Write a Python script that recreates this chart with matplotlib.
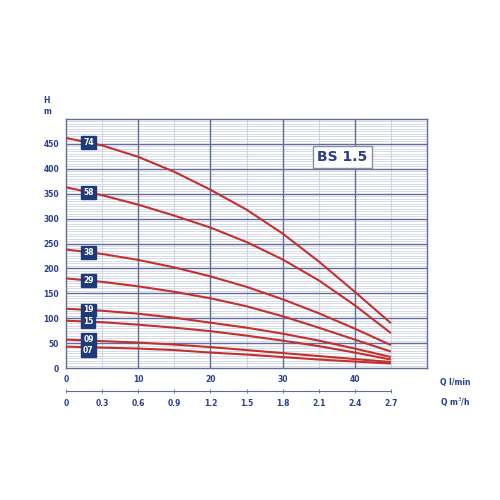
import matplotlib
matplotlib.use("Agg")
import matplotlib.pyplot as plt
import numpy as np

# flow in l/min where the heads were read
q_lmin = [0, 5, 10, 15, 20, 25, 30, 35, 40, 45]

h_74 = [462, 447, 424, 394, 358, 318, 270, 214, 153, 90]
h_58 = [363, 347, 328, 306, 282, 253, 218, 176, 126, 70]
h_38 = [238, 229, 217, 202, 184, 163, 138, 110, 79, 46]
h_29 = [180, 173, 164, 153, 140, 124, 104, 81, 57, 33]
h_19 = [119, 115, 109, 101, 91, 81, 69, 55, 39, 22]
h_15 = [95, 92, 87, 81, 74, 65, 55, 44, 31, 17]
h_09 = [57, 54, 51, 47, 42, 36, 30, 24, 18, 12]
h_07 = [43, 41, 39, 36, 31, 27, 22, 17, 13, 9]

stages = ["74", "58", "38", "29", "19", "15", "09", "07"]
heads = [h_74, h_58, h_38, h_29, h_19, h_15, h_09, h_07]

y_ticks = [0, 50, 100, 150, 200, 250, 300, 350, 400, 450]
x_ticks = [0, 10, 20, 30, 40]
m3h_ticks = [0, 0.3, 0.6, 0.9, 1.2, 1.5, 1.8, 2.1, 2.4, 2.7]

navy = "#2b3f8c"
major = "#5f6c9c"
minor = "#cdd5e6"
red = "#c3312a"

fig = plt.figure(figsize=(5, 5), dpi=100)
ax = fig.add_axes([0.132, 0.264, 0.722, 0.498])
ax.set_xlim(0, 50)
ax.set_ylim(0, 500)

# grid
for y in np.arange(5, 500, 5):
    if y % 50:
        ax.axhline(y, color=minor, lw=0.6, zorder=1)
for x in np.arange(5, 50, 10):
    ax.axvline(x, color=minor, lw=0.8, zorder=1)
for y in range(50, 500, 50):
    ax.axhline(y, color=major, lw=1.0, zorder=2)
for x in x_ticks[1:]:
    ax.axvline(x, color=major, lw=1.0, zorder=2)
for s in ax.spines.values():
    s.set_color(major)
    s.set_linewidth(1.0)

for name, h in zip(stages, heads):
    ax.plot(q_lmin, h, color=red, lw=1.5, zorder=3, solid_capstyle="butt")

# stage labels sitting on the curves
nudge = {"09": 3, "07": -7}
for name, h in zip(stages, heads):
    yv = np.interp(3.1, q_lmin, h) + nudge.get(name, 0)
    ax.text(3.1, yv, name, color="white", fontsize=5.5, fontweight="bold",
            ha="center", va="center", zorder=5,
            bbox=dict(boxstyle="square,pad=0.25", fc="#1f3a78", ec="#1f3a78"))

ax.text(38.3, 424, "BS 1.5", color=navy, fontsize=10, fontweight="bold",
        ha="center", va="center", zorder=6,
        bbox=dict(boxstyle="square,pad=0.3", fc="white", ec="#8a8fa0", lw=1.0))

ax.set_yticks(y_ticks)
ax.set_xticks(x_ticks)
ax.tick_params(length=0, labelsize=5.5, labelcolor=navy, pad=5)
for t in ax.get_xticklabels() + ax.get_yticklabels():
    t.set_fontweight("bold")

fig.text(0.094, 0.794, "H", color=navy, fontsize=5.5, fontweight="bold", ha="center")
fig.text(0.094, 0.772, "m", color=navy, fontsize=5.5, fontweight="bold", ha="center")
fig.text(0.88, 0.235, "Q l/min", color=navy, fontsize=5.5, fontweight="bold", va="center")
fig.text(0.88, 0.196, "Q m$^3$/h", color=navy, fontsize=5.5, fontweight="bold", va="center")

# second flow scale in m3/h
ax2 = fig.add_axes([0.132, 0.218, 0.722, 0.001])
ax2.set_xlim(0, 3.0)
ax2.set_yticks([])
for side in ["top", "left", "right"]:
    ax2.spines[side].set_visible(False)
ax2.spines["bottom"].set_bounds(0, 2.7)
ax2.spines["bottom"].set_color(major)
ax2.spines["bottom"].set_linewidth(0.8)
ax2.patch.set_visible(False)
ax2.set_xticks(m3h_ticks)
ax2.set_xticklabels(["0"] + [f"{v:.1f}" for v in m3h_ticks[1:]])
ax2.tick_params(axis="x", direction="inout", length=3, width=0.6, color=major,
                labelsize=5.5, labelcolor=navy, pad=4)
for t in ax2.get_xticklabels():
    t.set_fontweight("bold")

fig.savefig("out.png", dpi=100, facecolor="white")
